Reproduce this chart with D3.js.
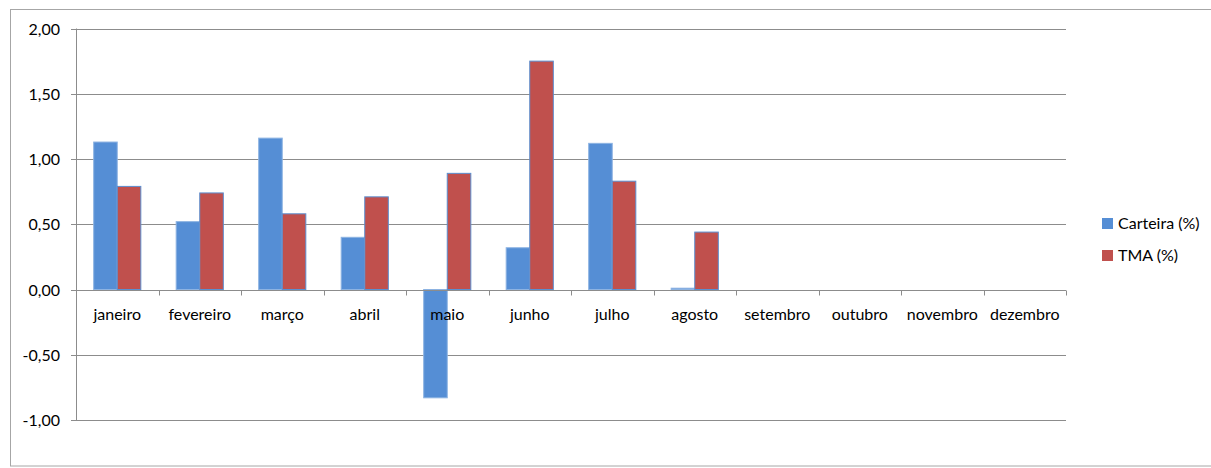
<!DOCTYPE html>
<html lang="pt">
<head>
<meta charset="UTF-8">
<title>Carteira x TMA</title>
<script src="https://cdnjs.cloudflare.com/ajax/libs/d3/7.8.5/d3.min.js"></script>
<style>
    body { margin: 0; background: #fff; }
    svg text { font-family: Lato, "Open Sans", sans-serif; fill: #000; }
</style>
</head>
<body>
<svg id="chart"></svg>
<script>
    const months = ["janeiro", "fevereiro", "março", "abril", "maio", "junho",
        "julho", "agosto", "setembro", "outubro", "novembro", "dezembro"];
    const carteira = [1.13, 0.52, 1.16, 0.40, -0.83, 0.32, 1.12, 0.01, null, null, null, null];
    const tma = [0.79, 0.74, 0.58, 0.71, 0.89, 1.75, 0.83, 0.44, null, null, null, null];
    const seriesNames = ["Carteira (%)", "TMA (%)"];
    const yTicks = [-1, -0.5, 0, 0.5, 1, 1.5, 2];

    const width = 1211, height = 468;
    const plotLeft = 76, plotRight = 1066, plotTop = 28.5, plotBottom = 420;

    const svg = d3.select("#chart").attr("width", width).attr("height", height);

    // outer frame
    svg.append("rect")
        .attr("x", 10.5).attr("y", 9.5)
        .attr("width", 1230).attr("height", 456.5)
        .attr("fill", "none").attr("stroke", "#a6a6a6");

    const x = d3.scaleBand().domain(months).range([plotLeft, plotRight]);
    const y = d3.scaleLinear().domain([-1, 2]).range([plotBottom, plotTop]);

    const barW = x.bandwidth() / 3.5;
    const x1 = d3.scaleBand().domain(seriesNames).range([0, barW * 2]);

    // gridlines
    svg.append("g")
        .selectAll("line")
        .data(yTicks)
        .join("line")
        .attr("x1", plotLeft - 5).attr("x2", plotRight)
        .attr("y1", d => Math.round(y(d)) + 0.5).attr("y2", d => Math.round(y(d)) + 0.5)
        .attr("stroke", "#8c8c8c");

    // y labels
    const fmt = d => d3.format(".2f")(d).replace(".", ",").replace("−", "-");
    svg.append("g")
        .selectAll("text")
        .data(yTicks)
        .join("text")
        .attr("x", 60).attr("y", d => y(d) + 6)
        .attr("text-anchor", "end")
        .attr("font-size", 16)
        .text(fmt);

    // y axis line
    svg.append("line")
        .attr("x1", plotLeft + 0.5).attr("x2", plotLeft + 0.5)
        .attr("y1", y(2)).attr("y2", y(-1))
        .attr("stroke", "#8c8c8c");

    const colors = { "Carteira (%)": "#558ed5", "TMA (%)": "#c0504d" };
    const strokes = { "Carteira (%)": "#8db3e2", "TMA (%)": "#5b8fd0" };

    const groups = svg.append("g")
        .selectAll("g")
        .data(months.map((m, i) => ({ m: m, vals: [carteira[i], tma[i]] })))
        .join("g")
        .attr("transform", d => "translate(" + (x(d.m) + (x.bandwidth() - barW * 2) / 2) + ",0)");

    groups.selectAll("rect")
        .data(d => d.vals.map((v, i) => ({ s: seriesNames[i], v: v })).filter(e => e.v !== null))
        .join("rect")
        .attr("x", e => x1(e.s))
        .attr("width", barW)
        .attr("y", e => y(Math.max(0, e.v)))
        .attr("height", e => Math.abs(y(e.v) - y(0)))
        .attr("fill", e => colors[e.s])
        .attr("stroke", e => strokes[e.s])
        .attr("stroke-width", 1);

    // x axis line and ticks
    const y0 = Math.round(y(0)) + 0.5;
    svg.append("line")
        .attr("x1", plotLeft).attr("x2", plotRight)
        .attr("y1", y0).attr("y2", y0)
        .attr("stroke", "#8c8c8c");
    svg.append("g")
        .selectAll("line")
        .data(months.map(m => x(m)).concat([plotRight]))
        .join("line")
        .attr("x1", d => Math.round(d) + 0.5).attr("x2", d => Math.round(d) + 0.5)
        .attr("y1", y0).attr("y2", y0 + 5)
        .attr("stroke", "#8c8c8c");

    svg.append("g")
        .selectAll("text")
        .data(months)
        .join("text")
        .attr("x", d => x(d) + x.bandwidth() / 2)
        .attr("y", 320)
        .attr("text-anchor", "middle")
        .attr("font-size", 16)
        .text(d => d);

    // legend
    const legend = svg.append("g")
        .selectAll("g")
        .data(seriesNames)
        .join("g")
        .attr("transform", (d, i) => "translate(1102," + (218 + i * 32) + ")");
    legend.append("rect")
        .attr("width", 11).attr("height", 11)
        .attr("fill", d => colors[d]);
    legend.append("text")
        .attr("x", 16).attr("y", 11)
        .attr("font-size", 16)
        .text(d => d);
</script>
</body>
</html>
